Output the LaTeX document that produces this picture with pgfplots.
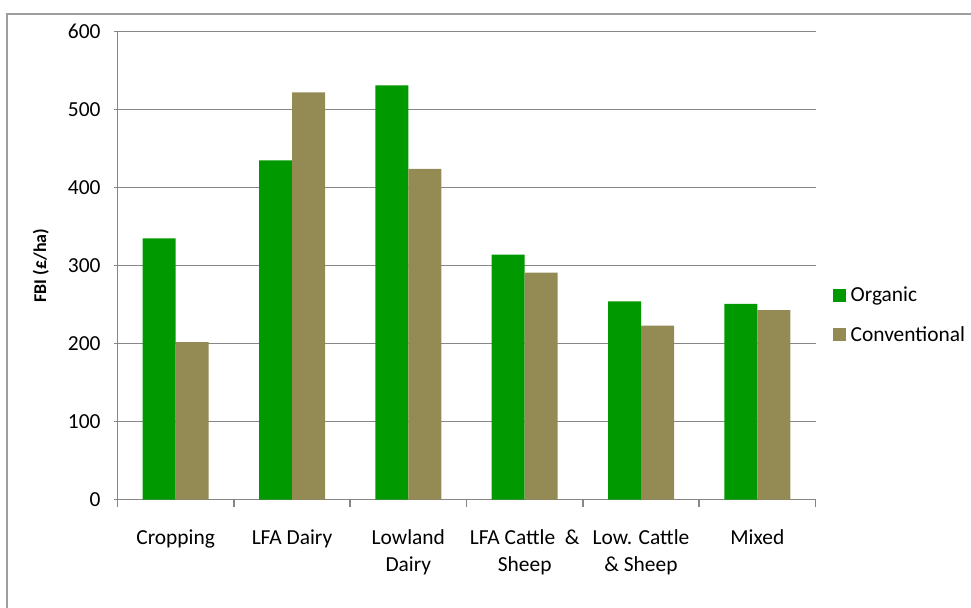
\documentclass[border=0pt]{standalone}
\usepackage{pgfplots}
\pgfplotsset{compat=1.18}
\usepackage{fontspec}
\setmainfont{Carlito}
\definecolor{orgGreen}{HTML}{009900}
\definecolor{convOlive}{HTML}{948A54}
\definecolor{axGray}{HTML}{868686}

\begin{document}
\begin{tikzpicture}[x=1bp,y=1bp]
\useasboundingbox (0,0) rectangle (971,608);
% chart frame, cut by the page edge
\draw[axGray!80, line width=1.2bp] (7,-20) -- (7,594) -- (990,594);
\begin{axis}[
    at={(101,139)}, anchor=south west,
    scale only axis,
    width=698bp, height=468bp,
    xmin=-0.5, xmax=5.5,
    ymin=0, ymax=600,
    ytick={0,100,...,600},
    xtick={-0.5,0.5,...,5.5},
    xticklabels={,,,,,,},
    extra x ticks={0,1,2,3,4,5},
    extra x tick labels={Cropping, LFA Dairy, Lowland\\Dairy, LFA Cattle~~\&\\Sheep, Low. Cattle\\\& Sheep, Mixed},
    extra x tick style={major tick length=0pt, grid=none},
    xticklabel style={align=center, font=\fontsize{21.5}{27}\selectfont, yshift=-27bp},
    yticklabel style={font=\fontsize{21.5}{24}\selectfont, xshift=-10bp},
    /pgf/number format/assume math mode=true,
    tick align=outside,
    major tick length=7bp,
    tick style={axGray, line width=1.5bp},
    axis x line=bottom, axis y line=left,
    axis line style={-, axGray, line width=1.5bp},
    ymajorgrids,
    grid style={axGray, line width=1.5bp},
    ylabel={FBI (£/ha)},
    ylabel style={font=\fontsize{18}{22}\selectfont\bfseries, at={(rel axis cs:-0.110,0.5)}, anchor=center},
    ybar=0pt, bar width=33bp,
    legend style={at={(1.02,0.395)}, anchor=west, draw=none, fill=none,
        font=\fontsize{21.5}{24}\selectfont, row sep=19bp,
        nodes={inner sep=2bp},
        /tikz/every odd column/.append style={column sep=3bp}},
    legend cell align=left,
    legend image code/.code={\fill[#1] (0bp,-6.5bp) rectangle (13bp,6.5bp);},
]
\addplot[fill=orgGreen, draw=none] coordinates {(0,335) (1,435) (2,531) (3,314) (4,254) (5,251)};
\addplot[fill=convOlive, draw=none] coordinates {(0,202) (1,522) (2,424) (3,291) (4,223) (5,243)};
\legend{Organic, Conventional}
\end{axis}
\end{tikzpicture}
\end{document}
